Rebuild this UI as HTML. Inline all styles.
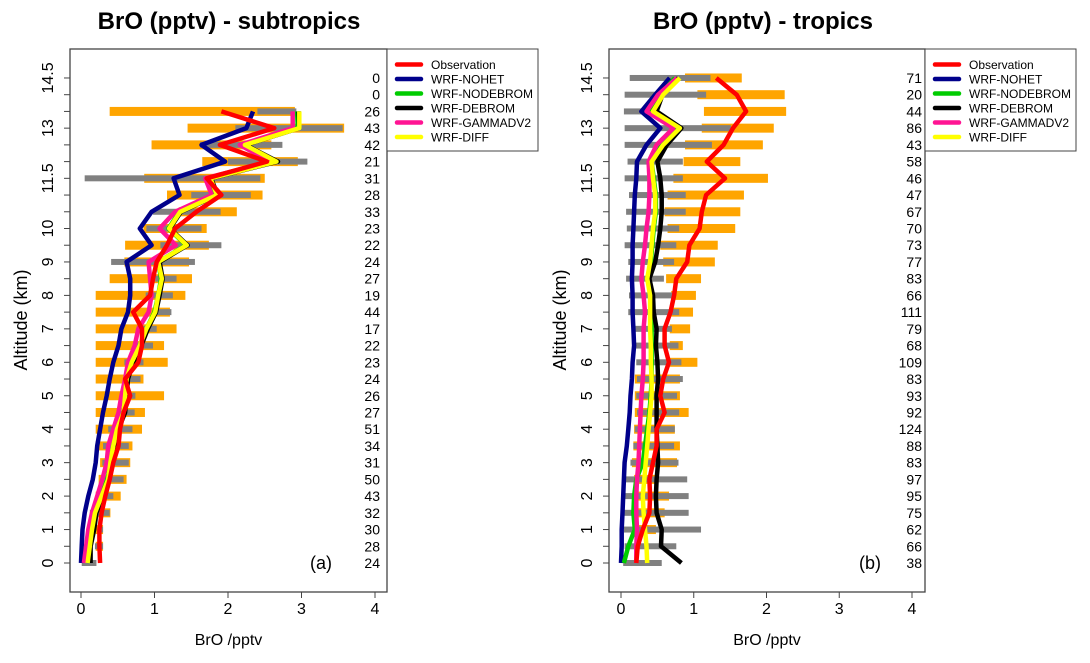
<!DOCTYPE html>
<html><head><meta charset="utf-8"><style>
body{margin:0;background:#fff;}
svg{display:block;font-family:"Liberation Sans",Arial,sans-serif;}
</style></head><body>
<svg id="chart" width="1090" height="663" viewBox="0 0 1090 663" xmlns="http://www.w3.org/2000/svg">
<text x="229" y="29" text-anchor="middle" font-size="24" font-weight="bold">BrO (pptv) -  subtropics</text>
<text x="763" y="29" text-anchor="middle" font-size="24" font-weight="bold">BrO (pptv) - tropics</text>
</svg>
<script>
// levels (km), top to bottom
const altitudes = [14.5,14,13.5,13,12.5,12,11.5,11,10.5,10,9.5,9,8.5,8,7.5,7,6.5,6,5.5,5,4.5,4,3.5,3,2.5,2,1.5,1,0.5,0];
const seriesNames = ["Observation","WRF-NOHET","WRF-NODEBROM","WRF-DEBROM","WRF-GAMMADV2","WRF-DIFF"];
const xTicks = [0,1,2,3,4];
const yTickValues = [0,0.5,1,1.5,2,2.5,3,3.5,4,4.5,5,5.5,6,6.5,7,7.5,8,8.5,9,9.5,10,10.5,11,11.5,12,12.5,13,13.5,14,14.5];
const yTickLabels = ["0","","1","","2","","3","","4","","5","","6","","7","","8","","9","","10","","","11.5","","","13","","","14.5"];

// Panel (a) subtropics
const countsA = [0,0,26,43,42,21,31,28,33,23,22,24,27,19,44,17,22,23,24,26,27,51,34,31,50,43,32,30,28,24];
const obsA = [null,null,1.91,2.63,1.89,2.53,1.71,1.91,1.57,1.28,1.17,1.03,0.98,0.94,0.71,0.83,0.83,0.78,0.60,0.67,0.58,0.53,0.51,0.44,0.39,0.33,0.28,0.25,0.25,0.26];
const nohetA = [null,null,2.34,2.25,1.64,1.96,1.26,1.34,0.96,0.80,0.96,0.62,0.67,0.67,0.64,0.55,0.51,0.44,0.39,0.35,0.30,0.26,0.22,0.20,0.16,0.10,0.05,0.02,0.01,0.00];
const nodebromA = [null,null,2.94,2.95,2.21,2.65,1.74,1.84,1.34,1.19,1.43,1.05,1.09,1.05,1.00,0.89,0.80,0.69,0.62,0.60,0.58,0.49,0.44,0.40,0.36,0.27,0.18,0.14,0.11,0.08];
const debromA = [null,null,2.96,2.97,2.24,2.68,1.77,1.86,1.36,1.21,1.45,1.07,1.11,1.07,1.02,0.91,0.82,0.71,0.64,0.62,0.60,0.51,0.46,0.42,0.38,0.30,0.21,0.18,0.13,0.13];
const gammaA = [null,null,2.88,2.88,2.16,2.57,1.69,1.78,1.28,1.07,1.29,0.92,0.94,0.96,0.92,0.78,0.73,0.64,0.60,0.55,0.51,0.44,0.37,0.35,0.29,0.22,0.15,0.10,0.07,0.04];
const diffA = [null,null,2.97,2.97,2.23,2.66,1.76,1.85,1.35,1.20,1.44,1.05,1.10,1.05,1.01,0.89,0.80,0.69,0.62,0.60,0.58,0.49,0.44,0.40,0.37,0.28,0.19,0.15,0.12,0.09];
const obsLoA = [null,null,0.39,1.45,0.96,1.65,0.86,1.17,1.33,0.85,0.60,0.59,0.39,0.20,0.20,0.20,0.20,0.20,0.20,0.20,0.20,0.20,0.20,0.26,0.24,0.20,0.22,0.20,0.20,null];
const obsHiA = [null,null,2.91,3.58,2.59,2.95,2.50,2.47,2.12,1.71,1.74,1.47,1.51,1.42,1.21,1.30,1.13,1.18,0.85,1.13,0.87,0.83,0.70,0.67,0.62,0.54,0.40,0.30,0.30,null];
const modLoA = [null,null,2.40,2.10,1.62,2.00,0.05,1.50,0.98,0.89,1.08,0.41,1.01,0.88,0.98,0.76,0.71,0.59,0.58,0.53,0.49,0.37,0.30,0.29,0.29,0.28,0.12,0.24,0.19,0.01];
const modHiA = [null,null,2.93,3.56,2.74,3.08,2.44,2.31,1.90,1.64,1.91,1.55,1.30,1.25,1.23,1.03,0.98,0.85,0.81,0.74,0.73,0.70,0.65,0.65,0.58,0.44,0.39,0.30,0.30,0.21];

// Panel (b) tropics
const countsB = [71,20,44,86,43,58,46,47,67,70,73,77,83,66,111,79,68,109,83,93,92,124,88,83,97,95,75,62,66,38];
const obsB = [1.31,1.59,1.72,1.54,1.41,1.18,1.43,1.17,1.11,1.08,0.94,0.91,0.76,0.73,0.68,0.60,0.60,0.66,0.58,0.54,0.60,0.49,0.49,0.44,0.39,0.40,0.39,0.30,0.23,0.21];
const nohetB = [0.67,0.47,0.28,0.54,0.35,0.22,0.21,0.19,0.18,0.17,0.16,0.16,0.15,0.16,0.16,0.17,0.18,0.16,0.15,0.13,0.12,0.10,0.08,0.05,0.04,0.03,0.02,0.01,0.01,0.00];
const nodebromB = [0.74,0.54,0.38,0.79,0.56,0.42,0.45,0.48,0.48,0.45,0.43,0.41,0.37,0.41,0.42,0.42,0.42,0.42,0.42,0.41,0.39,0.36,0.33,0.30,0.21,0.18,0.17,0.19,0.10,0.04];
const debromB = [0.79,0.57,0.49,0.83,0.63,0.50,0.54,0.56,0.56,0.54,0.51,0.47,0.39,0.44,0.45,0.49,0.48,0.50,0.51,0.49,0.49,0.49,0.50,0.51,0.49,0.48,0.49,0.56,0.55,0.83];
const gammaB = [0.77,0.51,0.35,0.72,0.49,0.38,0.39,0.39,0.38,0.35,0.33,0.30,0.28,0.31,0.33,0.31,0.31,0.31,0.30,0.28,0.27,0.26,0.25,0.24,0.22,0.21,0.21,0.22,0.21,0.21];
const diffB = [0.81,0.58,0.44,0.81,0.58,0.42,0.44,0.47,0.47,0.44,0.42,0.40,0.36,0.40,0.40,0.40,0.41,0.41,0.42,0.42,0.40,0.38,0.36,0.34,0.32,0.30,0.31,0.33,0.35,0.36];
const obsLoB = [0.88,1.05,1.14,1.11,0.88,0.86,0.72,0.64,0.60,0.64,0.54,0.58,0.62,0.69,0.69,0.67,0.67,0.67,0.19,0.19,0.19,0.18,0.17,0.15,0.18,0.18,0.18,0.18,null,null];
const obsHiB = [1.66,2.25,2.27,2.10,1.95,1.64,2.02,1.69,1.64,1.57,1.33,1.29,1.10,1.03,0.99,0.95,0.85,1.05,0.81,0.81,0.93,0.74,0.81,0.77,0.48,0.66,0.60,0.48,null,null];
const modLoB = [0.12,0.05,0.04,0.05,0.05,0.09,0.05,0.11,0.07,0.08,0.05,0.10,0.07,0.11,0.10,0.18,0.19,0.21,0.22,0.21,0.22,0.19,0.17,0.13,0.05,0.04,0.04,0.04,0.05,0.03];
const modHiB = [1.23,1.17,0.47,1.51,1.25,0.85,0.85,0.89,0.89,0.80,0.76,0.73,0.59,0.72,0.80,0.70,0.79,0.83,0.85,0.77,0.80,0.74,0.73,0.79,0.91,0.93,0.93,1.10,0.76,0.56];

const NS = "http://www.w3.org/2000/svg";
const svg = document.getElementById('chart');
const colors = ["#ff0000","#00008b","#00cc00","#000000","#ff1493","#ffff00"];
function mk(tag, attrs, parent){ const e=document.createElementNS(NS,tag); for(const k in attrs) e.setAttribute(k,attrs[k]); (parent||svg).appendChild(e); return e; }
const yScale = a => 563 - a*33.45;

function panel(p){
  const g = mk('g',{});
  
  
  const xs = v => p.x0 + v*(p.x4-p.x0)/4;
  [[p.oLo,p.oHi,'#ffa500',9,'obs-range-bar'],[p.mLo,p.mHi,'#808080',6,'model-range-bar']].forEach(([lo,hi,c,h,nm])=>{
    altitudes.forEach((a,i)=>{
      if(lo[i]==null||hi[i]==null) return;
      const r = mk('rect',{x:xs(lo[i]),y:yScale(a)-h/2,width:Math.max(1,xs(hi[i])-xs(lo[i])),height:h,fill:c},g);
      
      
    });
  });
  const order=[1,2,3,4,5,0];
  order.forEach(si=>{
    const d=p.series[si]; let pts=[];
    altitudes.forEach((a,i)=>{ if(d[i]!=null) pts.push(xs(d[i]).toFixed(1)+','+yScale(a).toFixed(1)); });
    const l = mk('polyline',{points:pts.join(' '),fill:'none',stroke:colors[si],'stroke-width':4.5,'stroke-linejoin':'round'},g);
    
    
  });
  const b = mk('rect',{x:p.bx,y:49,width:p.bw,height:543,fill:'none',stroke:'#444','stroke-width':1.3},g);
  
  
  yTickValues.forEach((v,i)=>{
    mk('line',{x1:p.bx-6,x2:p.bx,y1:yScale(v),y2:yScale(v),stroke:'#444','stroke-width':1},g);
    if(yTickLabels[i]){
      const t = mk('text',{x:0,y:0,transform:`translate(${p.bx-17},${yScale(v)}) rotate(-90)`,'text-anchor':'middle','font-size':16},g);
      t.textContent=yTickLabels[i];
      
      
    }
  });
  xTicks.forEach(v=>{
    mk('line',{x1:xs(v),x2:xs(v),y1:592,y2:598,stroke:'#444','stroke-width':1},g);
    const t = mk('text',{x:xs(v),y:614,'text-anchor':'middle','font-size':16},g);
    t.textContent=v;
    
    
  });
  const xt = mk('text',{x:p.bx+p.bw/2,y:645,'text-anchor':'middle','font-size':16},g);
  xt.textContent='BrO /pptv';
  
  
  const yt = mk('text',{x:0,y:0,transform:`translate(${p.bx-43},320) rotate(-90)`,'text-anchor':'middle','font-size':18},g);
  yt.textContent='Altitude (km)';
  
  
  altitudes.forEach((a,i)=>{
    const t = mk('text',{x:p.cx,y:yScale(a)+5,'text-anchor':'end','font-size':14},g);
    t.textContent=p.counts[i];
    
    
  });
  const pl = mk('text',{x:p.lx,y:569,'text-anchor':'middle','font-size':18},g);
  pl.textContent=p.label;
  
  
  const lg = mk('g',{},g);
  
  
  mk('rect',{x:p.bx+p.bw,y:49,width:151,height:102,fill:'#fff',stroke:'#444','stroke-width':1},lg);
  seriesNames.forEach((n,i)=>{
    const yy=64.5+i*14.5, x0=p.bx+p.bw;
    mk('line',{x1:x0+10,x2:x0+34,y1:yy,y2:yy,stroke:colors[i],'stroke-width':4.5,'stroke-linecap':'round'},lg);
    const t=mk('text',{x:x0+44,y:yy+4.5,'font-size':12},lg);
    t.textContent=n;
    
    
  });
}
panel({name:'panel-subtropics',x0:81,x4:375,bx:70,bw:317,cx:380,lx:321,label:'(a)',counts:countsA,
  series:[obsA,nohetA,nodebromA,debromA,gammaA,diffA],oLo:obsLoA,oHi:obsHiA,mLo:modLoA,mHi:modHiA});
panel({name:'panel-tropics',x0:621,x4:912,bx:609,bw:316,cx:922,lx:870,label:'(b)',counts:countsB,
  series:[obsB,nohetB,nodebromB,debromB,gammaB,diffB],oLo:obsLoB,oHi:obsHiB,mLo:modLoB,mHi:modHiB});
</script>
</body></html>
